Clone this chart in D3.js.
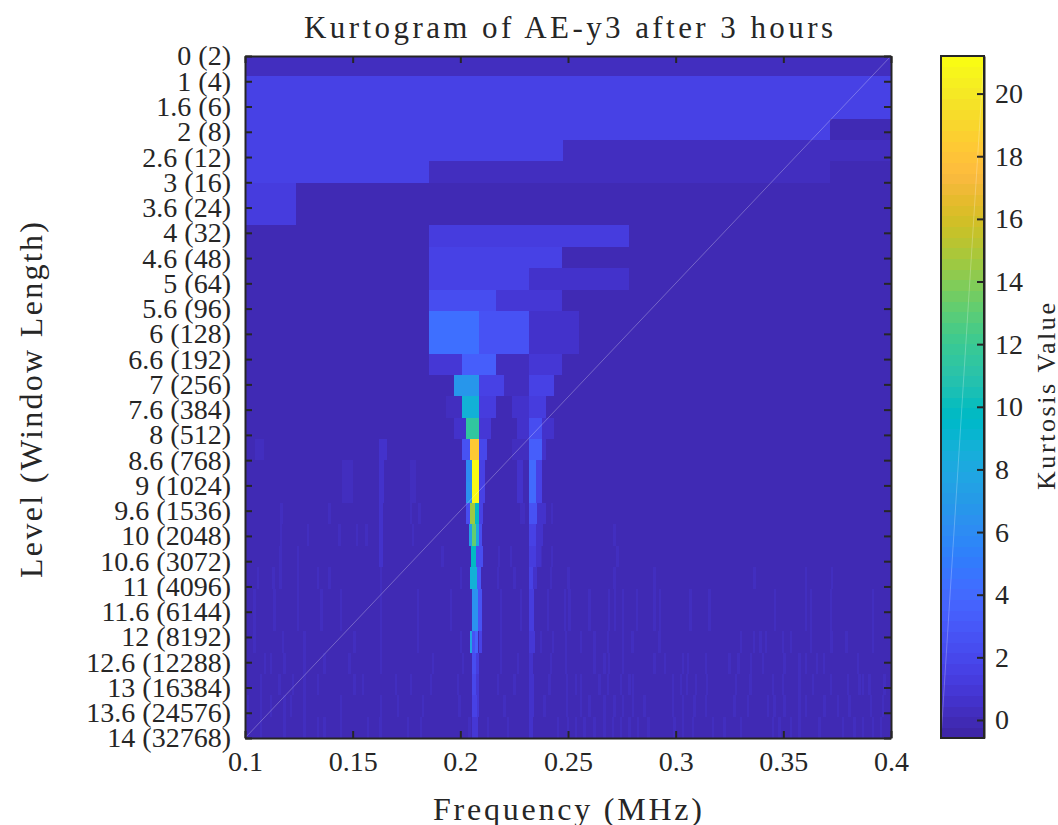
<!DOCTYPE html>
<html>
<head>
<meta charset="utf-8">
<title>Kurtogram</title>
<script src="https://cdnjs.cloudflare.com/ajax/libs/d3/7.8.5/d3.min.js"></script>
<style>
body{margin:0;background:#fff}
svg{display:block}
text{font-family:"Liberation Serif",serif;fill:#262626}
</style>
</head>
<body>
<div id="chart"></div>
<script>
// level labels, top to bottom
var levelLabels=['0 (2)','1 (4)','1.6 (6)','2 (8)','2.6 (12)','3 (16)','3.6 (24)','4 (32)','4.6 (48)','5 (64)','5.6 (96)','6 (128)','6.6 (192)','7 (256)','7.6 (384)','8 (512)','8.6 (768)','9 (1024)','9.6 (1536)','10 (2048)','10.6 (3072)','11 (4096)','11.6 (6144)','12 (8192)','12.6 (12288)','13 (16384)','13.6 (24576)','14 (32768)'];
var freqTicks=[0.1,0.15,0.2,0.25,0.3,0.35,0.4];
var kurtTicks=[0,2,4,6,8,10,12,14,16,18,20];
var kurtRange=[-0.575,21.2];

// MATLAB parula(64)
var parula=['#3e26a8','#402ab4','#422ebf','#4332cb','#4537d5','#463cde','#4741e5','#4747eb','#474df0','#4752f4','#4758f8','#465efb','#4563fd','#426afe','#3e6fff','#3875fe','#327bfc','#2f81fa','#2d87f7','#2d8cf3','#2b91ef','#2796eb','#259be7','#23a0e5','#20a5e3','#1ca9df','#18addb','#12b1d6','#08b5d0','#01b8ca','#02bac3','#0bbdbc','#19bfb5','#24c1ae','#2cc3a7','#31c69f','#37c897','#3fca8e','#4acb84','#57cc7a','#63cd6f','#71cc64','#80cc59','#8fca4e','#9dc942','#abc739','#b9c431','#c5c22a','#d1bf27','#dcbd29','#e6bb2d','#efba36','#f8ba3d','#fdbe3c','#fec338','#fec934','#fccf30','#f9d62d','#f7dc2a','#f5e227','#f5e924','#f6ef20','#f7f51b','#f9fb14'];

// kurtosis of everything not listed below, per display row
var rowBase=[0.28,1.64,1.64,1.64,0.28,0.28,0.1,0.1,-0.06,-0.06,-0.06,-0.06,-0.06,-0.06,-0.06,-0.06,-0.06,-0.06,-0.06,-0.06,-0.06,-0.06,-0.06,-0.06,-0.06,-0.06,-0.06,-0.06,-0.06,-0.06,-0.06,-0.06];

// [f start, f end, kurtosis] in MHz
var rowCells=[
 [],[],[],
 [[0.3717,0.4,0.1]],
 [[0.1,0.2477,1.64]],
 [[0.1,0.1855,1.64],[0.3717,0.4,-0.06]],
 [[0.1,0.1236,1.3],[0.3717,0.4,-0.06]],
 [[0.1,0.1236,1.3],[0.3717,0.4,-0.06]],
 [[0.1,0.1855,-0.2],[0.1855,0.2783,1.3]],
 [[0.1236,0.1855,0.1],[0.1855,0.2472,1.47]],
 [[0.1,0.1855,0.1],[0.1855,0.2319,1.64],[0.2319,0.2783,0.62]],
 [[0.1,0.1855,0.1],[0.1855,0.2165,2.32],[0.2165,0.2472,0.8],[0.2472,0.2551,-0.06]],
 [[0.1855,0.2087,4.36],[0.2087,0.2319,2.5],[0.2319,0.2551,0.62]],
 [[0.1855,0.2087,4.36],[0.2087,0.2319,2.5],[0.2319,0.2551,0.62]],
 [[0.1,0.1697,0.1],[0.1697,0.1855,-0.2],[0.1855,0.2008,0.96],[0.2008,0.2165,3.34],[0.2165,0.2319,0.28],[0.2319,0.2472,0.96]],
 [[0.1742,0.1971,-0.2],[0.1971,0.2087,6.74],[0.2087,0.2203,1.64],[0.2203,0.2319,0.28],[0.2319,0.2435,1.47]],
 [[0.1932,0.2008,0.28],[0.2008,0.2087,8.78],[0.2087,0.2165,1.3],[0.2165,0.2240,0.1],[0.2240,0.2319,0.62],[0.2319,0.2398,1.3]],
 [[0.1971,0.2026,0.62],[0.2026,0.2087,11.5],[0.2087,0.2142,0.96],[0.2262,0.2319,0.45],[0.2319,0.2378,2.32],[0.2378,0.2435,0.62]],
 [[0.1047,0.1086,0.28],[0.1624,0.1660,0.45],[0.1890,0.1932,-0.2],[0.2008,0.2045,2.66],[0.2045,0.2087,18.3],[0.2087,0.2126,1.98],[0.2240,0.2319,0.28],[0.2319,0.2378,3.34],[0.2378,0.2398,0.62]],
 [[0.1449,0.1503,0.28],[0.1624,0.1647,0.62],[0.1766,0.1793,0.28],[0.2026,0.2054,6.06],[0.2054,0.2087,21],[0.2087,0.2115,1.64],[0.2262,0.2291,0.62],[0.2319,0.2351,4.02],[0.2351,0.2378,1.64]],
 [[0.1449,0.1503,0.28],[0.1624,0.1647,0.62],[0.1766,0.1793,0.28],[0.2026,0.2054,6.4],[0.2054,0.2087,21],[0.2087,0.2115,1.64],[0.2262,0.2291,0.62],[0.2319,0.2351,4.02],[0.2351,0.2378,1.64]],
 [[0.1624,0.1640,0.62],[0.2026,0.2045,2.32],[0.2045,0.2068,14.6],[0.2068,0.2087,9.8],[0.2087,0.2105,1.64],[0.2278,0.2301,0.28],[0.2319,0.2358,2.66],[0.2358,0.2398,0.62]],
 [[0.1624,0.1640,0.62],[0.2040,0.2054,7.42],[0.2054,0.2073,13.2],[0.2073,0.2087,8.1],[0.2087,0.2100,2.32],[0.2319,0.2351,1.64],[0.2351,0.2385,0.62]],
 [[0.1624,0.1642,0.62],[0.2049,0.2073,9.8],[0.2073,0.2103,2.32],[0.2319,0.2351,1.3],[0.2351,0.2375,0.45]],
 [[0.2045,0.2077,8.78],[0.2077,0.2096,3],[0.2319,0.2338,1.64],[0.2338,0.2358,0.62]],
 [[0.2054,0.2082,6.4],[0.2082,0.2100,2.66],[0.2319,0.2342,1.3]],
 [[0.2054,0.2082,6.4],[0.2082,0.2100,2.66],[0.2319,0.2342,1.3]],
 [[0.2045,0.2054,7.76],[0.2054,0.2068,2.66],[0.2068,0.2082,3.68],[0.2087,0.2100,1.64],[0.2319,0.2347,0.96]],
 [[0.2054,0.2073,2.32],[0.2073,0.2087,1.3],[0.2319,0.2338,0.62]],
 [[0.2054,0.2073,1.98],[0.2073,0.2087,0.96],[0.2319,0.2342,0.62]],
 [[0.2054,0.2077,1.64],[0.2077,0.2087,0.96],[0.2319,0.2342,0.62]],
 [[0.2054,0.2082,0.96],[0.2319,0.2338,0.45]]
];

// thin bins one colour step above the floor, per display row
var rowStripes={
 21:[0.1164,0.1387,0.1766,0.1805,0.2420],
 22:[0.1163,0.1287,0.1434,0.1516,0.1559,0.1774,0.2711],
 23:[0.1160,0.1240,0.1912,0.2174,0.2231,0.2370,0.2420,0.2725],
 24:[0.1054,0.1127,0.1160,0.1240,0.1333,0.1387,0.1627,0.1999,0.2169,0.2246,0.2417,0.2497,0.2711,0.2896,0.3361,0.3601,0.3720],
 25:[0.1039,0.1132,0.1240,0.1349,0.1441,0.1627,0.1797,0.1952,0.2184,0.2277,0.2401,0.2482,0.2502,0.2595,0.2684,0.2714,0.2749,0.2816,0.2896,0.2923,0.3064,0.3152,0.3457,0.3601,0.3624,0.3717,0.3912],
 26:[0.1039,0.1132,0.1240,0.1349,0.1441,0.1627,0.1797,0.1952,0.2184,0.2277,0.2401,0.2482,0.2502,0.2595,0.2684,0.2714,0.2749,0.2816,0.2896,0.2923,0.3064,0.3152,0.3457,0.3601,0.3624,0.3717,0.3912],
 27:[0.1039,0.1170,0.1271,0.1503,0.1627,0.1797,0.1999,0.2184,0.2370,0.2424,0.2486,0.2556,0.2618,0.2680,0.2749,0.2794,0.2920,0.3299,0.3358,0.3389,0.3415,0.3492,0.3531,0.3624,0.3718,0.3787,0.3910],
 28:[0.1088,0.1116,0.1178,0.1271,0.1364,0.1480,0.1627,0.1867,0.2006,0.2184,0.2262,0.2417,0.2486,0.2618,0.2664,0.2684,0.2749,0.2896,0.2946,0.3028,0.3051,0.3136,0.3245,0.3287,0.3345,0.3400,0.3500,0.3570,0.3601,0.3652,0.3683,0.3841],
 29:[0.1070,0.1155,0.1217,0.1271,0.1333,0.1503,0.1542,0.1697,0.1766,0.1859,0.1983,0.2169,0.2246,0.2409,0.2491,0.2533,0.2556,0.2641,0.2680,0.2742,0.2780,0.2796,0.2982,0.3020,0.3048,0.3090,0.3139,0.3276,0.3342,0.3446,0.3492,0.3570,0.3632,0.3717,0.3794,0.3849,0.3864,0.3895,0.3965],
 30:[0.1008,0.1070,0.1116,0.1178,0.1209,0.1271,0.1441,0.1627,0.1705,0.1821,0.1991,0.2200,0.2386,0.2491,0.2556,0.2595,0.2664,0.2711,0.2749,0.2796,0.2850,0.2982,0.3028,0.3082,0.3136,0.3268,0.3330,0.3423,0.3454,0.3500,0.3570,0.3601,0.3686,0.3748,0.3802,0.3903,0.3957],
 31:[0.1070,0.1178,0.1271,0.1333,0.1364,0.1441,0.1565,0.1624,0.1751,0.1813,0.2037,0.2123,0.2215,0.2447,0.2494,0.2533,0.2571,0.2618,0.2664,0.2703,0.2742,0.2780,0.2819,0.2869,0.2989,0.3028,0.3074,0.3167,0.3222,0.3299,0.3446,0.3477,0.3531,0.3570,0.3663,0.3771,0.3825,0.3864,0.3910,0.3949]
};
var stripeValue=0.28, stripeBin=0.0011;

var W=1058,H=825;
var L=245,R=891,T=56,B=738;
var CL=941,CR=984;
var INK='#262626';

var svg=d3.select('#chart').append('svg').attr('width',W).attr('height',H);
svg.append('defs').append('clipPath').attr('id','plot').append('rect').attr('x',L).attr('y',T).attr('width',R-L).attr('height',B-T);

var x=d3.scaleLinear().domain([0.1,0.4]).range([L,R]);
var yLevel=d3.scaleLinear().domain([0,levelLabels.length-1]).range([T,B]);
// image rows do not line up with the level ticks; 32 rows, top one cut short
var yRow=d3.scaleLinear().domain([0,32]).range([54.65,B]);
var color=d3.scaleQuantize().domain(kurtRange).range(parula);

var heat=svg.append('g').attr('clip-path','url(#plot)').attr('shape-rendering','crispEdges');
function cell(r,f0,f1,v){
  heat.append('rect').attr('x',x(f0)).attr('y',yRow(r)).attr('width',x(f1)-x(f0)).attr('height',yRow(r+1)-yRow(r)).attr('fill',color(v));
}
rowBase.forEach(function(v,r){cell(r,0.1,0.4,v)});
d3.keys=Object.keys;
Object.keys(rowStripes).forEach(function(k){
  var r=+k;
  rowStripes[k].forEach(function(f){cell(r,f,f+stripeBin,stripeValue)});
});
rowCells.forEach(function(cs,r){cs.forEach(function(c){cell(r,c[0],c[1],c[2])})});

// faint seam of the exported image, corner to corner
svg.append('line').attr('x1',x(0.1)).attr('y1',B).attr('x2',x(0.4)).attr('y2',T).attr('stroke','#fff').attr('stroke-opacity',.28).attr('stroke-width',1);

function styleAxis(g,size){
  g.selectAll('path.domain').attr('stroke',INK).attr('stroke-width',2);
  g.selectAll('line').attr('stroke',INK).attr('stroke-width',2);
  g.selectAll('text').attr('font-size',size).attr('fill',INK).attr('font-family','"Liberation Serif",serif');
}
var TICK=7;
var gb=svg.append('g').attr('transform','translate(0,'+B+')').call(d3.axisBottom(x).tickValues(freqTicks).tickFormat(function(d){return String(d)}).tickSizeInner(-TICK).tickSizeOuter(0).tickPadding(13));
styleAxis(gb,28);
var gt=svg.append('g').attr('transform','translate(0,'+T+')').call(d3.axisTop(x).tickValues(freqTicks).tickFormat('').tickSizeInner(-TICK).tickSizeOuter(0));
styleAxis(gt,28);
var gl=svg.append('g').attr('transform','translate('+L+',0)').call(d3.axisLeft(yLevel).tickValues(d3.range(levelLabels.length)).tickFormat(function(i){return levelLabels[i]}).tickSizeInner(-TICK).tickSizeOuter(0).tickPadding(14));
styleAxis(gl,28);
var gr=svg.append('g').attr('transform','translate('+R+',0)').call(d3.axisRight(yLevel).tickValues(d3.range(levelLabels.length)).tickFormat('').tickSizeInner(-TICK).tickSizeOuter(0));
styleAxis(gr,28);

// titles
svg.append('text').attr('x',568.5).attr('y',38).attr('text-anchor','middle').attr('font-size',31).attr('textLength',529).text('Kurtogram of AE-y3 after 3 hours');
svg.append('text').attr('x',567.5).attr('y',820).attr('text-anchor','middle').attr('font-size',32).attr('textLength',269).text('Frequency (MHz)');
svg.append('text').attr('transform','translate(42,400) rotate(-90)').attr('text-anchor','middle').attr('font-size',32).attr('textLength',356).text('Level (Window Length)');

// colorbar
var yBar=d3.scaleLinear().domain(kurtRange).range([B,T]);
var barG=svg.append('g').attr('shape-rendering','crispEdges');
barG.selectAll('rect').data(parula).enter().append('rect')
  .attr('x',CL).attr('width',CR-CL)
  .attr('y',function(c){return yBar(color.invertExtent(c)[1])})
  .attr('height',function(c){var e=color.invertExtent(c);return yBar(e[0])-yBar(e[1])+.5})
  .attr('fill',function(c){return c});
svg.append('line').attr('x1',CL).attr('y1',B).attr('x2',CR).attr('y2',T).attr('stroke','#fff').attr('stroke-opacity',.25).attr('stroke-width',1);
var gc=svg.append('g').attr('transform','translate('+CR+',0)').call(d3.axisRight(yBar).tickValues(kurtTicks).tickSizeInner(-TICK).tickSizeOuter(0).tickPadding(11));
styleAxis(gc,28);
svg.append('rect').attr('x',CL).attr('y',T).attr('width',CR-CL).attr('height',B-T).attr('fill','none').attr('stroke',INK).attr('stroke-width',2);
svg.append('text').attr('transform','translate(1055,396.5) rotate(-90)').attr('text-anchor','middle').attr('font-size',26).attr('textLength',187).text('Kurtosis Value');
</script>
</body>
</html>
